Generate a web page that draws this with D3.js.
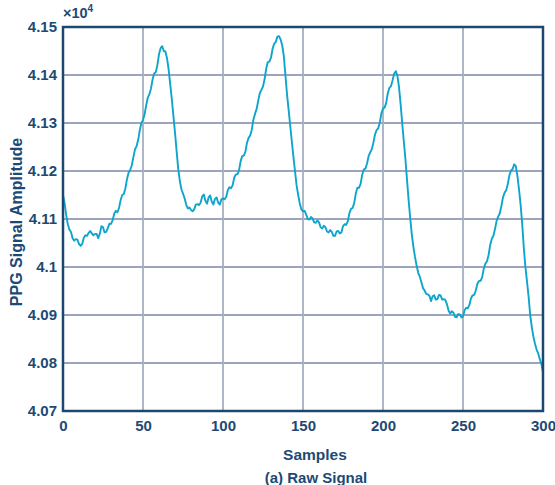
<!DOCTYPE html>
<html>
<head>
<meta charset="utf-8">
<script src="https://cdn.jsdelivr.net/npm/d3@7"></script>
<style>
  body { margin: 0; background: #fff; }
  svg { display: block; }
  text { font-family: "Liberation Sans", Arial, sans-serif; font-weight: bold; fill: #1d4a74; }
</style>
</head>
<body>
<script>
// raw PPG samples 0..300 (units of 1e4)
var ppgValues = [
  4.1150, 4.1133, 4.1108, 4.1089, 4.1078, 4.1073, 4.1060, 4.1055, 4.1058, 4.1057,
  4.1048, 4.1044, 4.1048, 4.1061, 4.1066, 4.1065, 4.1071, 4.1075, 4.1070, 4.1066,
  4.1069, 4.1069, 4.1060, 4.1069, 4.1085, 4.1083, 4.1072, 4.1073, 4.1081, 4.1090,
  4.1090, 4.1097, 4.1111, 4.1117, 4.1114, 4.1123, 4.1139, 4.1150, 4.1152, 4.1164,
  4.1183, 4.1197, 4.1202, 4.1212, 4.1229, 4.1245, 4.1252, 4.1265, 4.1285, 4.1300,
  4.1306, 4.1318, 4.1337, 4.1353, 4.1360, 4.1372, 4.1391, 4.1403, 4.1406, 4.1421,
  4.1443, 4.1456, 4.1460, 4.1450, 4.1449, 4.1435, 4.1412, 4.1381, 4.1350, 4.1315,
  4.1280, 4.1242, 4.1205, 4.1180, 4.1162, 4.1153, 4.1143, 4.1130, 4.1122, 4.1124,
  4.1119, 4.1116, 4.1120, 4.1130, 4.1131, 4.1129, 4.1134, 4.1147, 4.1151, 4.1138,
  4.1132, 4.1145, 4.1149, 4.1136, 4.1130, 4.1142, 4.1145, 4.1134, 4.1130, 4.1141,
  4.1143, 4.1141, 4.1146, 4.1160, 4.1166, 4.1164, 4.1170, 4.1186, 4.1193, 4.1193,
  4.1201, 4.1220, 4.1231, 4.1232, 4.1240, 4.1259, 4.1269, 4.1274, 4.1286, 4.1307,
  4.1319, 4.1329, 4.1346, 4.1362, 4.1369, 4.1376, 4.1391, 4.1413, 4.1427, 4.1428,
  4.1436, 4.1455, 4.1465, 4.1469, 4.1480, 4.1481, 4.1474, 4.1462, 4.1440, 4.1400,
  4.1360, 4.1328, 4.1295, 4.1262, 4.1230, 4.1200, 4.1170, 4.1150, 4.1132, 4.1120,
  4.1116, 4.1117, 4.1109, 4.1100, 4.1099, 4.1104, 4.1101, 4.1093, 4.1092, 4.1097,
  4.1093, 4.1083, 4.1080, 4.1086, 4.1083, 4.1074, 4.1072, 4.1077, 4.1073, 4.1065,
  4.1065, 4.1074, 4.1075, 4.1070, 4.1072, 4.1085, 4.1089, 4.1088, 4.1095, 4.1112,
  4.1121, 4.1123, 4.1133, 4.1153, 4.1165, 4.1165, 4.1173, 4.1192, 4.1203, 4.1205,
  4.1215, 4.1231, 4.1239, 4.1245, 4.1259, 4.1276, 4.1285, 4.1289, 4.1301, 4.1320,
  4.1330, 4.1332, 4.1342, 4.1362, 4.1373, 4.1377, 4.1389, 4.1403, 4.1408, 4.1398,
  4.1375, 4.1340, 4.1300, 4.1262, 4.1225, 4.1182, 4.1140, 4.1102, 4.1068, 4.1042,
  4.1021, 4.1003, 4.0988, 4.0980, 4.0968, 4.0956, 4.0951, 4.0944, 4.0943, 4.0940,
  4.0929, 4.0939, 4.0941, 4.0932, 4.0933, 4.0942, 4.0941, 4.0932, 4.0933, 4.0931,
  4.0922, 4.0909, 4.0903, 4.0908, 4.0905, 4.0896, 4.0895, 4.0902, 4.0901, 4.0895,
  4.0897, 4.0910, 4.0915, 4.0914, 4.0921, 4.0935, 4.0941, 4.0942, 4.0951, 4.0965,
  4.0971, 4.0971, 4.0979, 4.0997, 4.1007, 4.1012, 4.1025, 4.1046, 4.1059, 4.1065,
  4.1079, 4.1096, 4.1105, 4.1112, 4.1127, 4.1145, 4.1155, 4.1160, 4.1173, 4.1191,
  4.1201, 4.1204, 4.1214, 4.1210, 4.1190, 4.1162, 4.1130, 4.1090, 4.1040, 4.1000,
  4.0970, 4.0938, 4.0900, 4.0875, 4.0855, 4.0840, 4.0828, 4.0820, 4.0808, 4.0798,
  4.0780
]

var xTicks = [0, 50, 100, 150, 200, 250, 300]
var yTicks = [4.07, 4.08, 4.09, 4.1, 4.11, 4.12, 4.13, 4.14, 4.15]

var margin = {left: 63, top: 27}
var width = 480
var height = 384

var x = d3.scaleLinear().domain([0, 300]).range([0, width])
var y = d3.scaleLinear().domain([4.07, 4.15]).range([height, 0])

var svg = d3.select('body').append('svg').attr('width', 555).attr('height', 485)
var g = svg.append('g').attr('transform', `translate(${margin.left},${margin.top})`)

// grid
g.selectAll('.hgrid').data(yTicks.slice(1, -1)).enter().append('line')
  .attr('x1', 0).attr('x2', width)
  .attr('y1', d => y(d)).attr('y2', d => y(d))
  .attr('stroke', '#7b87a6').attr('stroke-width', 1.6)
g.selectAll('.vgrid').data(xTicks.slice(1, -1)).enter().append('line')
  .attr('y1', 0).attr('y2', height)
  .attr('x1', d => x(d)).attr('x2', d => x(d))
  .attr('stroke', '#a7aec2').attr('stroke-width', 1.8)

// signal
var line = d3.line()
  .x((d, i) => x(i))
  .y(d => y(d))
g.append('path').attr('d', line(ppgValues))
  .attr('fill', 'none').attr('stroke', '#0ea5cd').attr('stroke-width', 1.9)
  .attr('stroke-linejoin', 'round')

// frame
g.append('rect').attr('width', width).attr('height', height)
  .attr('fill', 'none').attr('stroke', '#1b4770').attr('stroke-width', 2.5)

// axes (labels only, frame drawn above)
var yAxis = d3.axisLeft(y).tickValues(yTicks).tickFormat(d3.format('')).tickSize(0).tickPadding(6)
var xAxis = d3.axisBottom(x).tickValues(xTicks).tickSize(0).tickPadding(9)
g.append('g').attr('class', 'axis y').call(yAxis)
g.append('g').attr('class', 'axis x').attr('transform', `translate(0,${height})`).call(xAxis)
svg.selectAll('.axis path').remove()
svg.selectAll('.axis text').attr('font-size', 15).attr('font-family', null)
  .style('fill', '#1d4a74')

// exponent note
var ex = svg.append('text').attr('x', 63).attr('y', 18).attr('font-size', 14.5)
ex.append('tspan').text('×10')
ex.append('tspan').attr('font-size', 10).attr('dy', -6).text('4')

// titles
svg.append('text').attr('x', 315).attr('y', 460).attr('text-anchor', 'middle')
  .attr('font-size', 15.5).text('Samples')
svg.append('text').attr('x', 316).attr('y', 483).attr('text-anchor', 'middle')
  .attr('font-size', 15).text('(a) Raw Signal')
svg.append('text').attr('transform', 'translate(22,222) rotate(-90)').attr('text-anchor', 'middle')
  .attr('font-size', 16).text('PPG Signal Amplitude')
</script>
</body>
</html>
